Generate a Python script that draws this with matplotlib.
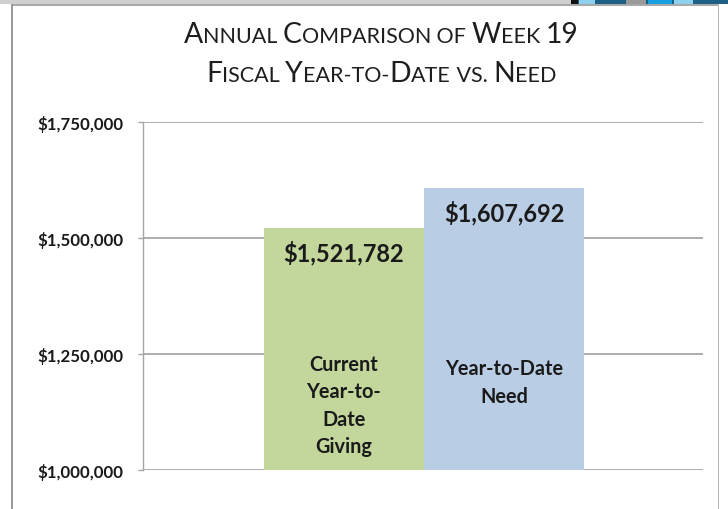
import matplotlib
matplotlib.use("Agg")
import matplotlib.pyplot as plt
from matplotlib.textpath import TextPath
from matplotlib.font_manager import FontProperties, findfont
from matplotlib.ft2font import FT2Font
from matplotlib.patches import Rectangle

# ---- data ----
categories = ["Current\nYear-to-\nDate\nGiving", "Year-to-Date\nNeed"]
values = [1521782, 1607692]
value_labels = ["$1,521,782", "$1,607,692"]
bar_colors = ["#c3d69b", "#b9cde5"]
yticks = [1000000, 1250000, 1500000, 1750000]
ytick_labels = ["$1,000,000", "$1,250,000", "$1,500,000", "$1,750,000"]
title_lines = [
    [("A", 1), ("NNUAL", 0), (" ", 0), ("C", 1), ("OMPARISON", 0), (" OF ", 0),
     ("W", 1), ("EEK", 0), (" ", 0), ("19", 1)],
    [("F", 1), ("ISCAL", 0), (" ", 0), ("Y", 1), ("EAR-TO-", 0), ("D", 1), ("ATE", 0),
     (" VS. ", 0), ("N", 1), ("EED", 0)],
]

W, H, DPI = 728, 510, 100
FONT = "Lato"


def tw(s, size, weight="normal", family=FONT):
    tp = TextPath((0, 0), s, size=size, prop=FontProperties(family=family, weight=weight))
    return tp.get_extents().width * DPI / 72.0  # px


def fit(s, target_px, weight="normal", family=FONT):
    return target_px / tw(s, 1.0, weight, family)


_title_font = FT2Font(findfont(FontProperties(family=FONT)))


def advance(s, size):
    _title_font.set_size(size, DPI)
    total = 0.0
    for c in s:
        g = _title_font.load_char(ord(c))
        total += g.linearHoriAdvance / 65536.0
    return total


fig = plt.figure(figsize=(W / DPI, H / DPI), dpi=DPI)
fig.patch.set_facecolor("white")


def px_rect(x0, y0, x1, y1, **kw):
    fig.patches.append(Rectangle((x0 / W, 1 - y1 / H), (x1 - x0) / W, (y1 - y0) / H,
                                 transform=fig.transFigure, figure=fig, **kw))


# ---- frame decorations ----
px_rect(0, 0, W, 5, color="#cfcfcf", lw=0)
px_rect(12, 5, 719, 6.5, color="#a9a9a9", lw=0)
px_rect(11, 5, 12.8, H, color="#9a9a9a", lw=0)
px_rect(717.5, 5, 719, H, color="#b5b5b5", lw=0)
px_rect(577, 0, 728, 5, color="#1f5f86", lw=0)
px_rect(571, 0, 578, 5, color="#111111", lw=0)
for x0, x1, col in [(579, 595, "#8fd0ef"), (626, 646, "#9a9a9a"),
                    (648, 672, "#18a0e0"), (674, 693, "#8fd0ef")]:
    px_rect(x0, 0, x1, 4.5, color=col, lw=0)

# ---- axes ----
ax = fig.add_axes([143 / W, 1 - 471 / H, (703 - 143) / W, (471 - 123) / H])
ax.set_facecolor("white")
x = list(range(len(values)))
bars = ax.bar(x, values, width=1.0, color=bar_colors, zorder=2)
ax.set_ylim(yticks[0], yticks[-1])
ax.set_xlim(-1.256, 2.244)
ax.set_yticks(yticks)
tick_size = fit("$1,000,000", 85, "bold")
ax.set_yticklabels(ytick_labels, fontsize=tick_size, fontweight="bold", family=FONT,
                   color="#1a1a1a")
ax.set_xticks([])
ax.yaxis.grid(True, color="#a6a6a6", lw=1.3, zorder=0)
ax.tick_params(axis="y", length=3.6, width=1.0, color="#a6a6a6", pad=10.8)
for side in ["top", "right", "bottom"]:
    ax.spines[side].set_visible(False)
ax.spines["left"].set_color("#a6a6a6")
ax.spines["left"].set_linewidth(1.0)

# value labels
val_size = fit("$1,521,782", 119, "bold")
for b, lab in zip(bars, value_labels):
    ax.annotate(lab, (b.get_x() + b.get_width() / 2, b.get_height()),
                xytext=(0, -24 * 72 / DPI), textcoords="offset points",
                ha="center", va="center", fontsize=val_size, fontweight="bold",
                family=FONT, color="#1a1a1a", zorder=3)

# category labels inside bars
cat_size = fit("Year-to-Date", 117, "bold")
cat_centers = [0.187, 0.253]
for xi, lab, yc in zip(x, categories, cat_centers):
    ax.text(xi, yc, lab, transform=ax.get_xaxis_transform(), ha="center", va="center",
            fontsize=cat_size, fontweight="bold", family=FONT, color="#1a1a1a",
            linespacing=1.45, zorder=3)

# ---- small-caps title ----
ratio = 0.76


def piece_w(t, kind, s):
    return advance(t, s if kind == 1 else s * ratio)


def line_width(pieces, s):
    return sum(piece_w(t, k, s) for t, k in pieces)


s_big = 20.0
for _ in range(3):
    s_big = s_big * 396 / line_width(title_lines[0], s_big)

baselines = [43, 82]
for pieces, base in zip(title_lines, baselines):
    total = line_width(pieces, s_big)
    xpos = 381 - total / 2
    for t, kind in pieces:
        size = s_big if kind == 1 else s_big * ratio
        if t.strip():
            fig.text(xpos / W, 1 - base / H, t, fontsize=size, family=FONT,
                     color="#1e1e1e", ha="left", va="baseline")
        xpos += piece_w(t, kind, s_big)

fig.savefig("out.png", dpi=DPI, facecolor="white")
